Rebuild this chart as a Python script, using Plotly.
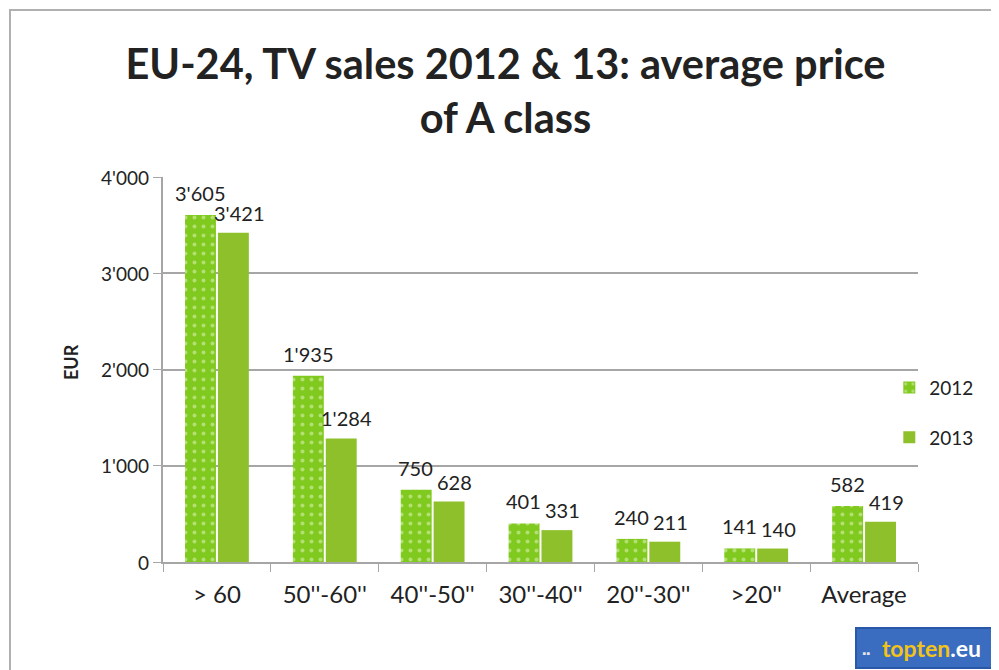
import plotly.graph_objects as go

categories = ["> 60", "50''-60''", "40''-50''", "30''-40''", "20''-30''", ">20''", "Average"]
sales_2012 = [3605, 1935, 750, 401, 240, 141, 582]
sales_2013 = [3421, 1284, 628, 331, 211, 140, 419]
y_ticks = [0, 1000, 2000, 3000, 4000]
y_ticktext = ["0", "1'000", "2'000", "3'000", "4'000"]


def fmt(v):
    # Swiss-style thousand separator
    return f"{v:,}".replace(",", "'")


FONT = "Lato, Open Sans, sans-serif"
TXT = "#222222"

# plot area in figure pixels (page body has an 8px margin)
L, R, T, B = 155, 910, 169, 554
W, H = 991, 662


def px(x):
    return (x - L) / (R - L)


def py(y):
    return (B - y) / (B - T)


fig = go.Figure()
fig.add_trace(go.Bar(
    name="2012",
    x=categories,
    y=sales_2012,
    legendgroup="a",
    marker=dict(
        color="#80C91E",
        line=dict(width=0),
        pattern=dict(shape=".", fgcolor="#E6F5C8", bgcolor="#80C91E", size=9, solidity=0.15),
    ),
))
fig.add_trace(go.Bar(
    name="2013",
    x=categories,
    y=sales_2013,
    legendgroup="b",
    marker=dict(color="#8DC02A", line=dict(width=0)),
))

# Excel-style data labels, sitting a little above each bar
for cat, v in zip(categories, sales_2012):
    fig.add_annotation(x=cat, y=v, text=fmt(v), showarrow=False, xshift=-17, yshift=8,
                       yanchor="bottom", font=dict(size=20, color=TXT))
for cat, v in zip(categories, sales_2013):
    fig.add_annotation(x=cat, y=v, text=fmt(v), showarrow=False, xshift=22, yshift=6,
                       yanchor="bottom", font=dict(size=20, color=TXT))

# y tick labels, placed on the y scale just left of the tick marks
for v, label in zip(y_ticks, y_ticktext):
    fig.add_annotation(xref="paper", x=0, y=v, text=label, showarrow=False,
                       xanchor="right", yanchor="middle", xshift=-12,
                       font=dict(size=19, color=TXT))

# y axis title
fig.add_annotation(xref="paper", yref="paper", x=px(50), y=py(354), text="<b>EUR</b>",
                   textangle=-90, showarrow=False, font=dict(size=18, color=TXT))

fig.update_layout(
    width=W,
    height=H,
    paper_bgcolor="white",
    plot_bgcolor="white",
    font=dict(family=FONT, color=TXT, size=18),
    barmode="group",
    bargap=0.39,
    bargroupgap=0.06,
    margin=dict(l=L, r=W - R, t=T, b=H - B),
    title=dict(
        text="<b>EU-24, TV sales 2012 & 13: average price<br>of A class</b>",
        x=0.502,
        xanchor="center",
        y=0.892,
        yanchor="middle",
        font=dict(family=FONT, size=41.5, color=TXT),
    ),
    legend=dict(
        x=0.962,
        y=0.502,
        xanchor="left",
        yanchor="top",
        font=dict(size=19, color=TXT),
        tracegroupgap=22,
        itemwidth=30,
        bgcolor="rgba(0,0,0,0)",
    ),
    showlegend=True,
)

fig.update_yaxes(
    range=[0, 4000],
    tickmode="array",
    tickvals=y_ticks,
    showticklabels=False,
    showgrid=True,
    gridcolor="#A6A6A6",
    gridwidth=1.5,
    showline=True,
    linecolor="#A6A6A6",
    linewidth=1.5,
    ticks="outside",
    tickcolor="#A6A6A6",
    ticklen=8,
    zeroline=False,
    automargin=False,
)
fig.update_xaxes(
    tickfont=dict(family=FONT, size=24, color=TXT),
    ticklabelstandoff=10,
    showline=True,
    linecolor="#A6A6A6",
    linewidth=1.5,
    ticks="outside",
    tickson="boundaries",
    tickcolor="#A6A6A6",
    ticklen=8,
    automargin=False,
)

# outer chart frame
fig.add_shape(
    type="rect", xref="paper", yref="paper",
    x0=px(2), x1=px(1010), y0=py(700), y1=py(2),
    line=dict(color="#B0B0B0", width=2), fillcolor="rgba(0,0,0,0)", layer="below",
)

# topten.eu logo
fig.add_annotation(
    xref="paper", yref="paper",
    x=px(847), y=py(640),
    xanchor="left", yanchor="middle",
    text="<span style='color:#E8E8E8;font-size:10px'>▪▪</span>  <b><span style='color:#F2C318'>topten</span><span style='color:#FFFFFF'>.eu</span></b>",
    font=dict(family=FONT, size=23),
    align="left",
    width=150,
    bgcolor="#3A6CC0",
    bordercolor="#2A58A8",
    borderwidth=2,
    borderpad=5,
    showarrow=False,
)

fig.write_html("out.html")
